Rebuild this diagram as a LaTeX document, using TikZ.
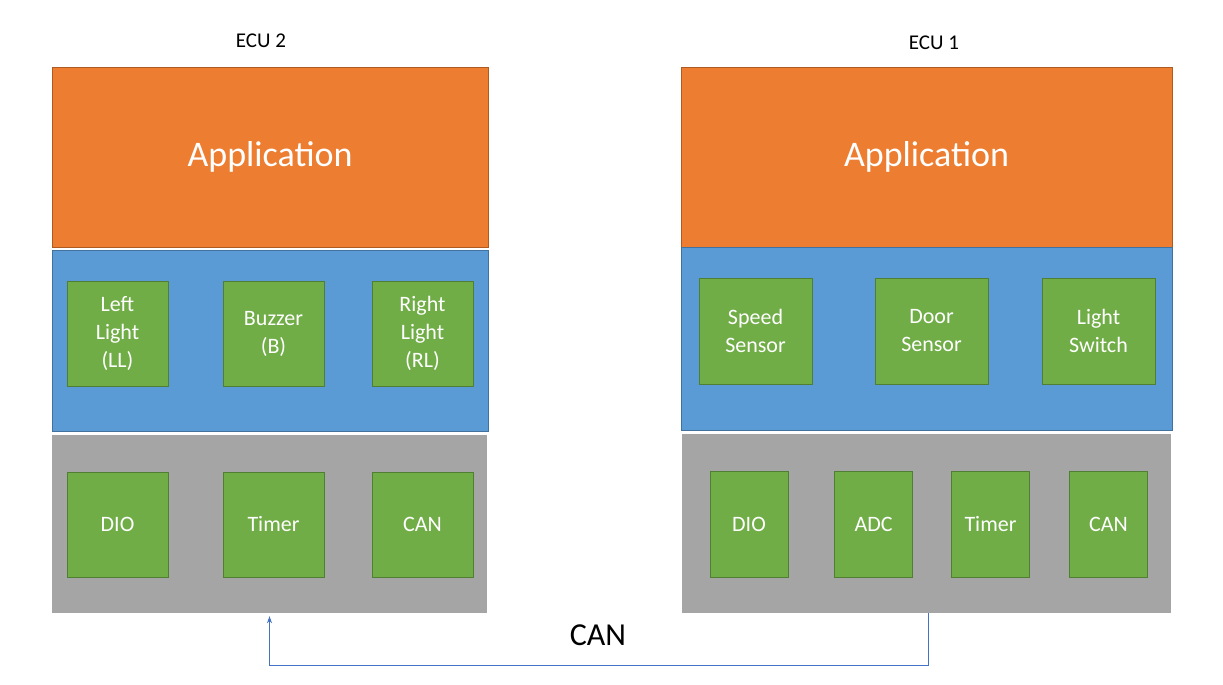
\documentclass[tikz,border=0pt]{standalone}
\usepackage{fontspec}
\setmainfont{Carlito}
\usepackage{xcolor}
\definecolor{apporange}{RGB}{237,125,49}
\definecolor{appedge}{RGB}{174,90,33}
\definecolor{halblue}{RGB}{91,155,213}
\definecolor{haledge}{RGB}{65,113,156}
\definecolor{modgreen}{RGB}{112,173,71}
\definecolor{modedge}{RGB}{80,126,50}
\definecolor{mcalgray}{RGB}{165,165,165}
\definecolor{busblue}{RGB}{68,114,196}
\usepackage{tikz}
\usetikzlibrary{arrows.meta,positioning}

\begin{document}
\begin{tikzpicture}[x=1pt, y=-1pt,
    app/.style={rectangle, draw=appedge, fill=apporange, line width=0.8pt,
                minimum width=436pt, minimum height=180pt, inner sep=0pt,
                text=white, font=\fontsize{36}{40}\selectfont},
    hal/.style={rectangle, draw=haledge, fill=halblue, line width=0.8pt,
                minimum width=436pt, minimum height=181pt, inner sep=0pt},
    mcal/.style={rectangle, fill=mcalgray,
                 minimum width=435pt, minimum height=178pt, inner sep=0pt},
    mod/.style={rectangle, draw=modedge, fill=modgreen, line width=0.8pt,
                minimum width=101pt, minimum height=105pt, inner sep=0pt,
                align=center, text=white, font=\fontsize{22}{28}\selectfont},
    ecu/.style={font=\fontsize{21}{24}\selectfont},
    bus/.style={-{Stealth[length=7pt,width=5pt]}, busblue, line width=0.8pt,
                shorten >=3pt},
  ]
  \useasboundingbox (0,0) rectangle (1223,685);

  %% ECU 2 -- left stack
  \node[ecu] (ecu2) at (261,41) {ECU 2};
  \node[app]  (app2)  at (270,157)   {Application};
  \node[hal]  (hal2)  at (270,340.5) {};
  \node[mcal] (mcal2) at (269.5,524) {};

  \node[mod] (ll)   at (117.5,333.5) {Left\\Light\\(LL)};
  \node[mod] (bz)   at (273.5,333.5) {Buzzer\\(B)};
  \node[mod] (rl)   at (422.5,333.5) {Right\\Light\\(RL)};

  \node[mod] (dio2) at (117.5,524.5) {DIO};
  \node[mod] (tmr2) at (273.5,524.5) {Timer};
  \node[mod] (can2) at (422.5,524.5) {CAN};

  %% ECU 1 -- right stack
  \node[ecu] (ecu1) at (934,43) {ECU 1};
  \node[app, minimum width=491pt]  (app1)  at (926.5,157)   {Application};
  \node[hal, minimum width=491pt, minimum height=183pt] (hal1) at (926.5,338.5) {};
  \node[mcal, minimum width=489pt, minimum height=179pt] (mcal1) at (926.5,523.5) {};

  \node[mod, minimum width=113pt, minimum height=106pt] (spd)  at (755.5,331)  {Speed\\Sensor};
  \node[mod, minimum width=113pt, minimum height=106pt] (door) at (931.5,331)  {Door\\Sensor};
  \node[mod, minimum width=113pt, minimum height=106pt] (lsw)  at (1098.5,331) {Light\\Switch};

  \node[mod, minimum width=78pt, minimum height=106pt] (dio1) at (749,524)    {DIO};
  \node[mod, minimum width=78pt, minimum height=106pt] (adc)  at (873.5,524)  {ADC};
  \node[mod, minimum width=78pt, minimum height=106pt] (tmr1) at (990.5,524)  {Timer};
  \node[mod, minimum width=78pt, minimum height=106pt] (can1) at (1108.5,524) {CAN};

  %% CAN bus
  \draw[bus] ([xshift=1.5pt]mcal1.south) -- ++(0,52) -| (mcal2.south);
  \node[font=\fontsize{32}{36}\selectfont] (canbus) at (598,635) {CAN};

\end{tikzpicture}
\end{document}
